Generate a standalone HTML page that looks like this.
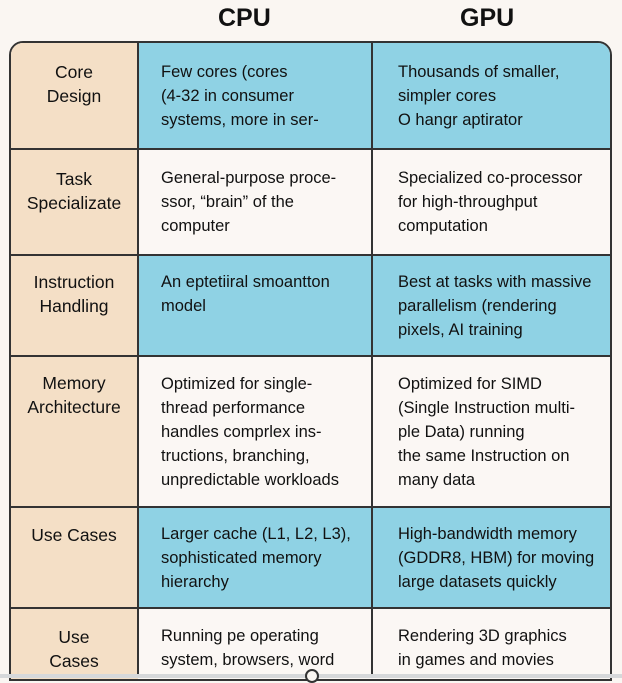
<!DOCTYPE html>
<html><head><style>
body{margin:0;width:622px;height:678px;background:#faf6f2;font-family:"Liberation Sans",sans-serif;position:relative;overflow:hidden;color:#111}
.h{position:absolute;top:4px;font-size:25px;font-weight:bold;color:#111}
.c{position:absolute;box-sizing:border-box;font-size:16.5px;line-height:24px}
.l{background:#f4dfc6;text-align:center;display:flex;align-items:flex-start;justify-content:center;font-size:17.5px;padding-top:17px}
.b{background:#8fd2e4}
.w{background:#fbf7f4}
.t{padding-left:22px;display:flex;align-items:center}
.hl{position:absolute;left:9px;width:603px;height:2px;background:#333}
.vl{position:absolute;top:41px;width:2px;height:635px;background:#333}
</style></head><body>
<div class="h" style="left:218px">CPU</div>
<div class="h" style="left:460px">GPU</div>
<div style="position:absolute;left:9px;top:41px;width:603px;height:640px;border:2px solid #333;border-radius:14px 14px 0 0;box-sizing:border-box;overflow:hidden">
<div style="position:absolute;left:0;top:0;width:127px;height:640px;background:#f4dfc6"></div>
</div>
<div class="c l" style="left:11px;top:43px;width:126px;height:105px;border-top-left-radius:12px">Core<br>Design</div>
<div class="c b t" style="left:139px;top:43px;width:232px;height:105px">Few cores (cores<br>(4-32 in consumer<br>systems, more in ser-</div>
<div class="c b t" style="left:373px;top:43px;width:237px;height:105px;padding-left:25px;border-top-right-radius:12px">Thousands of smaller,<br>simpler cores<br>O hangr aptirator</div>

<div class="c l" style="left:11px;top:150px;width:126px;height:104px">Task<br>Specializate</div>
<div class="c w t" style="left:139px;top:150px;width:232px;height:104px">General-purpose proce-<br>ssor, “brain” of the<br>computer</div>
<div class="c w t" style="left:373px;top:150px;width:237px;height:104px;padding-left:25px">Specialized co-processor<br>for high-throughput<br>computation</div>

<div class="c l" style="left:11px;top:256px;width:126px;height:99px;padding-top:14px">Instruction<br>Handling</div>
<div class="c b t" style="left:139px;top:256px;width:232px;height:99px;align-items:flex-start;padding-top:14px">An eptetiiral smoantton<br>model</div>
<div class="c b t" style="left:373px;top:256px;width:237px;height:99px;padding-left:25px">Best at tasks with massive<br>parallelism (rendering<br>pixels, AI training</div>

<div class="c l" style="left:11px;top:357px;width:126px;height:149px;padding-top:14px">Memory<br>Architecture</div>
<div class="c w t" style="left:139px;top:357px;width:232px;height:149px">Optimized for single-<br>thread performance<br>handles comprlex ins-<br>tructions, branching,<br>unpredictable workloads</div>
<div class="c w t" style="left:373px;top:357px;width:237px;height:149px;padding-left:25px">Optimized for SIMD<br>(Single Instruction multi-<br>ple Data) running<br>the same Instruction on<br>many data</div>

<div class="c l" style="left:11px;top:508px;width:126px;height:99px;padding-top:15px">Use Cases</div>
<div class="c b t" style="left:139px;top:508px;width:232px;height:99px">Larger cache (L1, L2, L3),<br>sophisticated memory<br>hierarchy</div>
<div class="c b t" style="left:373px;top:508px;width:237px;height:99px;padding-left:25px">High-bandwidth memory<br>(GDDR8, HBM) for moving<br>large datasets quickly</div>

<div class="c l" style="left:11px;top:609px;width:126px;height:70px;padding-top:16px">Use<br>Cases</div>
<div class="c w t" style="left:139px;top:609px;width:232px;height:70px;align-items:flex-start;padding-top:15px">Running pe operating<br>system, browsers, word</div>
<div class="c w t" style="left:373px;top:609px;width:237px;height:70px;align-items:flex-start;padding-top:15px;padding-left:25px">Rendering 3D graphics<br>in games and movies</div>

<div class="hl" style="top:148px"></div>
<div class="hl" style="top:254px"></div>
<div class="hl" style="top:355px"></div>
<div class="hl" style="top:506px"></div>
<div class="hl" style="top:607px"></div>
<div class="vl" style="left:137px"></div>
<div class="vl" style="left:371px"></div>
<div style="position:absolute;left:0;top:674px;width:622px;height:4px;background:#d6d8da"></div>
<div style="position:absolute;left:305px;top:669px;width:10px;height:10px;border:2px solid #333;border-radius:50%;background:#faf6f2"></div>
</body></html>
